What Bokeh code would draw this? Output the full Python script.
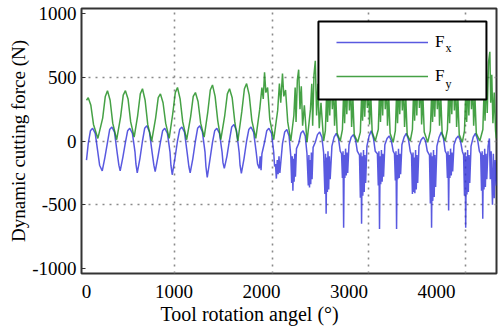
from bokeh.plotting import figure
from bokeh.models import FixedTicker, Legend, LegendItem, Label, Title, Range1d, BoxAnnotation
from bokeh.embed import file_html
from bokeh.resources import INLINE

# ---------------- data ----------------
x_tick_values = [0, 1000, 2000, 3000, 4000]
y_tick_values = [-1000, -500, 0, 500, 1000]
y_tick_labels = ["-1000", "-500", "0", "500", "1000"]

# Fx (blue) : tool rotation angle (deg) and force (N)
fx_angle = [
    0, 20, 45, 70, 100, 130, 150,
    180, 210, 240, 265, 290, 320, 350, 370,
    385, 415, 445, 470, 495, 525, 555, 565,
    580, 610, 640, 665, 690, 720, 750, 770,
    785, 815, 845, 870, 895, 925, 955, 965,
    980, 1010, 1040, 1065, 1090, 1120, 1150, 1170,
    1185, 1215, 1245, 1270, 1295, 1325, 1355, 1365,
    1380, 1410, 1440, 1465, 1490, 1520, 1550, 1560,
    1575, 1605, 1635, 1660, 1685, 1715, 1745, 1755,
    1770, 1800, 1830, 1855, 1880, 1910, 1940, 1955,
    1975, 1985, 1995, 2005, 2035, 2060, 2085, 2115, 2140, 2150,
    2160, 2170, 2180, 2190, 2200, 2210, 2240, 2265, 2290, 2315, 2335,
    2345, 2352, 2359, 2366, 2373, 2380, 2388, 2400, 2425, 2450, 2475, 2500, 2520,
    2535, 2542, 2549, 2556, 2563, 2570, 2578, 2590, 2615, 2640, 2665, 2690, 2710,
    2725, 2732, 2739, 2746, 2753, 2760, 2768, 2776, 2785, 2805, 2830, 2855, 2880, 2900,
    2915, 2925, 2932, 2939, 2946, 2953, 2961, 2969, 2977, 2985, 3000, 3025, 3050, 3075, 3095,
    3120, 3130, 3137, 3144, 3151, 3158, 3166, 3174, 3182, 3190, 3205, 3230, 3255, 3280, 3300,
    3325, 3335, 3342, 3349, 3356, 3363, 3371, 3379, 3387, 3395, 3410, 3435, 3460, 3485, 3505,
    3520, 3530, 3537, 3544, 3551, 3558, 3566, 3574, 3582, 3590, 3605, 3630, 3655, 3680, 3700,
    3715, 3725, 3732, 3739, 3746, 3753, 3761, 3769, 3777, 3785, 3800, 3825, 3850, 3875, 3895,
    3920, 3930, 3937, 3944, 3951, 3958, 3966, 3974, 3982, 3990, 4005, 4030, 4055, 4080, 4100,
    4115, 4125, 4132, 4139, 4146, 4153, 4161, 4169, 4177, 4185, 4200, 4225, 4250, 4275, 4295,
    4310, 4320, 4327, 4334, 4341, 4348, 4356, 4364, 4372, 4380, 4395, 4420, 4445, 4470, 4490,
    4505, 4515, 4522, 4529, 4536, 4543, 4551, 4559, 4567, 4575, 4590, 4605, 4615, 4625, 4640, 4650, 4660, 4670, 4685,
]
fx_force = [
    -150, -20, 80, 100, 60, -90, -190,
    -235, -130, -10, 90, 110, 70, -90, -190,
    -235, -130, -10, 80, 100, 60, -90, -180,
    -250, -140, 0, 100, 120, 70, -90, -190,
    -240, -130, -10, 80, 100, 60, -90, -190,
    -265, -140, 0, 90, 110, 70, -90, -200,
    -250, -140, 0, 100, 120, 70, -90, -200,
    -285, -150, -10, 80, 100, 60, -90, -170,
    -215, -120, 10, 110, 130, 80, -90, -190,
    -255, -140, 0, 90, 110, 70, -90, -180,
    -215, -120, -230, -100, -10, 80, 100, 60, -90, -200,
    -180, -295, -150, -260, -120, -250, -20, 70, 90, 40, -120,
    -330, -120, -390, -140, -320, -100, -280, -60, -20, 60, 80, 40, -100,
    -350, -110, -365, -150, -340, -90, -300, -50, -10, 50, 70, 30, -90,
    -415, -100, -570, -130, -400, -80, -380, -120, -300, -40, 30, 60, 20, -80,
    -100, -290, -80, -680, -110, -290, -60, -270, -90, -250, -30, 30, 50, 10, -80,
    -110, -445, -90, -650, -120, -430, -70, -400, -110, -330, -40, 40, 80, 20, -80,
    -100, -350, -80, -690, -120, -340, -70, -320, -100, -280, -30, 20, 40, 0, -80,
    -100, -310, -80, -690, -110, -300, -60, -290, -100, -260, -30, 30, 60, 10, -80,
    -110, -415, -90, -400, -130, -410, -70, -380, -110, -330, -40, 10, 30, 0, -80,
    -110, -490, -90, -680, -120, -470, -70, -440, -110, -360, -40, 30, 70, 20, -80,
    -100, -290, -80, -545, -110, -290, -60, -270, -90, -240, -30, 20, 40, 0, -80,
    -110, -430, -90, -680, -120, -420, -70, -400, -110, -330, -40, 30, 60, 10, -80,
    -100, -390, -80, -610, -110, -380, -60, -360, -100, -300, -40, 20, -300, -80, -500, -100, -450, -150, -350,
]

# Fy (green)
fy_angle = [
    0, 20, 50, 80, 130,
    185, 215, 240, 270, 300, 345,
    390, 420, 445, 475, 505, 545,
    585, 615, 640, 670, 700, 745,
    790, 820, 845, 875, 905, 945,
    985, 1015, 1040, 1070, 1100, 1145,
    1190, 1220, 1245, 1275, 1305, 1345,
    1385, 1415, 1440, 1470, 1500, 1535,
    1580, 1610, 1635, 1665, 1695, 1730,
    1775, 1805, 1830, 1860, 1890, 1935,
    1980, 2005, 2020, 2035, 2050, 2070, 2095, 2140,
    2185, 2205, 2220, 2240, 2255, 2275, 2300, 2335,
    2370, 2385, 2395, 2410, 2425, 2440, 2455, 2470, 2490, 2520,
    2560, 2575, 2585, 2600, 2615, 2630, 2645, 2660, 2680, 2710,
    2730, 2745, 2755, 2770, 2780, 2795, 2810, 2825, 2835, 2850, 2865, 2900,
    2925, 2940, 2950, 2965, 2975, 2990, 3005, 3020, 3030, 3045, 3060, 3100,
    3130, 3145, 3155, 3170, 3180, 3195, 3210, 3225, 3235, 3250, 3265, 3300,
    3335, 3350, 3360, 3375, 3385, 3400, 3415, 3430, 3440, 3455, 3470, 3505,
    3530, 3545, 3555, 3570, 3580, 3595, 3610, 3625, 3635, 3650, 3665, 3700,
    3725, 3740, 3750, 3765, 3775, 3790, 3805, 3820, 3830, 3845, 3860, 3900,
    3930, 3945, 3955, 3970, 3980, 3995, 4010, 4025, 4035, 4050, 4065, 4100,
    4125, 4140, 4150, 4165, 4175, 4190, 4205, 4220, 4230, 4245, 4260, 4295,
    4320, 4335, 4345, 4360, 4370, 4385, 4400, 4415, 4425, 4440, 4455, 4495,
    4530, 4545, 4555, 4570, 4580, 4595, 4610, 4620, 4632, 4645, 4660, 4675, 4685,
]
fy_force = [
    320, 340, 280, 130, 20,
    180, 350, 395, 320, 140, 10,
    190, 360, 395, 330, 150, 30,
    200, 370, 410, 320, 130, 0,
    180, 340, 370, 300, 140, 20,
    210, 380, 420, 330, 150, 10,
    190, 350, 380, 310, 140, 30,
    220, 400, 440, 350, 160, 10,
    200, 370, 410, 340, 150, 0,
    230, 410, 450, 360, 160, 20,
    250, 420, 330, 540, 380, 420, 170, 10,
    240, 450, 300, 530, 350, 400, 150, 0,
    200, 420, 150, 480, 560, 250, 430, 120, 280, -10,
    250, 450, 120, 520, 630, 200, 450, 100, 300, 0,
    80, 380, 150, 480, 200, 520, 250, 460, 120, 340, 60, 0,
    90, 400, 140, 500, 210, 560, 240, 470, 110, 330, 50, -10,
    70, 370, 160, 470, 190, 500, 260, 450, 130, 350, 70, 0,
    90, 410, 150, 520, 200, 580, 250, 480, 120, 340, 60, -10,
    80, 390, 140, 490, 210, 540, 240, 460, 110, 330, 50, 0,
    90, 420, 160, 530, 200, 600, 260, 490, 130, 350, 70, -10,
    80, 380, 150, 470, 190, 520, 250, 450, 120, 340, 60, 0,
    90, 400, 140, 510, 210, 580, 240, 470, 110, 330, 50, -10,
    80, 390, 150, 500, 200, 560, 250, 460, 120, 340, 60, 0,
    90, 420, 160, 560, 220, 620, 700, 300, 520, 140, 380, 80, 20,
]

series_labels = ["F", "F"]
series_subscripts = ["x", "y"]

# ---------------- figure ----------------
SERIF = "'Liberation Serif', serif"

p = figure(
    frame_width=415, frame_height=265,
    x_range=Range1d(-57, 4686), y_range=Range1d(-1040, 1040),
    output_backend="svg", toolbar_location=None,
    min_border_left=81, min_border_right=3, min_border_top=8, min_border_bottom=58,
    background_fill_color="white", border_fill_color="white",
)
p.outline_line_color = "#333333"
p.outline_line_width = 2

r_fx = p.line(fx_angle, fx_force, line_color="#3030d8", line_alpha=0.8, line_width=1.5)
r_fy = p.line(fy_angle, fy_force, line_color="#168a16", line_alpha=0.8, line_width=1.5)

# axes
p.xaxis.ticker = FixedTicker(ticks=x_tick_values)
p.yaxis.ticker = FixedTicker(ticks=y_tick_values)
p.yaxis.major_label_overrides = {v: s for v, s in zip(y_tick_values, y_tick_labels)}
for ax in p.axis:
    ax.axis_line_color = None
    ax.minor_tick_line_color = None
    ax.major_label_text_font = SERIF
    ax.major_label_text_font_size = "19px"
    ax.major_label_text_color = "black"
    ax.axis_label_text_font = SERIF
p.xaxis.major_tick_line_color = None
p.xaxis.major_label_standoff = 5
p.yaxis.major_tick_in = 4
p.yaxis.major_tick_out = 0
p.yaxis.major_tick_line_color = "#333333"
p.yaxis.major_label_standoff = 5
p.yaxis.axis_label = "Dynamic cutting force (N)"
p.yaxis.axis_label_text_font_size = "19px"
p.yaxis.axis_label_text_font_style = "normal"
p.yaxis.axis_label_text_color = "black"
p.yaxis.axis_label_standoff = 0

p.add_layout(Title(text="Tool rotation angel (°)", align="left", offset=79,
                   text_font=SERIF, text_font_size="20px", text_font_style="normal",
                   text_color="black", standoff=0), "below")

# grid (dotted, MATLAB style)
p.xgrid.ticker = FixedTicker(ticks=[1006, 2126, 3223, 4331])
p.ygrid.ticker = FixedTicker(ticks=[-500, 0, 500])
for g in p.grid:
    g.grid_line_color = "#8a8a8a"
    g.grid_line_dash = "2 5"
    g.grid_line_width = 1.6

# legend frame (white box with black border), then transparent legend and subscripts
p.add_layout(BoxAnnotation(left=2651, right=4571, bottom=326, top=938,
                           fill_color="white", fill_alpha=1.0,
                           line_color="black", line_width=2, line_alpha=1.0))

p.add_layout(Label(x=4103, y=728, text=series_subscripts[0], text_font=SERIF,
                   text_font_size="12px", text_baseline="alphabetic", text_color="black"))
p.add_layout(Label(x=4103, y=445, text=series_subscripts[1], text_font=SERIF,
                   text_font_size="12px", text_baseline="alphabetic", text_color="black"))

legend = Legend(
    items=[LegendItem(label=series_labels[0], renderers=[r_fx]),
           LegendItem(label=series_labels[1], renderers=[r_fy])],
    location=(244, 176), margin=0, padding=11, spacing=14,
    glyph_width=92, glyph_height=20, label_height=20, label_width=20, label_standoff=7,
    label_text_font=SERIF, label_text_font_size="17px", label_text_color="black",
    border_line_alpha=0.0, background_fill_alpha=0.0,
)
p.add_layout(legend)

open("out.html", "w").write(file_html(p, INLINE))
